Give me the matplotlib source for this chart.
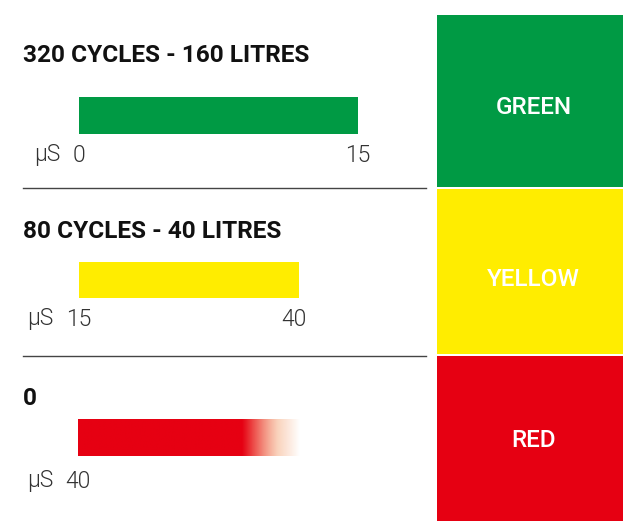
import numpy as np
import matplotlib
matplotlib.use("Agg")
import matplotlib.pyplot as plt
from matplotlib.colors import to_rgb

# ---- data ----
titles = ["320 CYCLES - 160 LITRES", "80 CYCLES - 40 LITRES", "0"]
range_start = [0, 15, 40]
range_end = [15, 40, None]
unit = "µS"
zone_labels = ["GREEN", "YELLOW", "RED"]
zone_colors = ["#009A44", "#FFED00", "#E60012"]

W, H = 623, 522
fig = plt.figure(figsize=(W / 100, H / 100), dpi=100)
fig.patch.set_facecolor("white")
plt.rcParams["font.family"] = ["Roboto", "DejaVu Sans"]


def rect(x0, y0, x1, y1):
    return [x0 / W, 1 - y1 / H, (x1 - x0) / W, (y1 - y0) / H]


# background axes in pixel coords
bg = fig.add_axes([0, 0, 1, 1])
bg.set_xlim(0, W)
bg.set_ylim(H, 0)
bg.axis("off")

bar_px = [(79, 358, 97, 134), (79, 299, 262, 298), (78, 300, 419, 456)]
title_y = [55, 232, 398.5]
tick_y = [155, 319, 481]
unit_x = [47, 40, 40]
end_x_shift = [0, -5, 0]
sep_y = [188, 356]
TICK_FS = 16.5

for i in range(3):
    bx0, bx1, by0, by1 = bar_px[i]
    bg.text(23, title_y[i], titles[i], fontsize=17.6, fontweight="bold",
            color="#111111", ha="left", va="center")
    ax = fig.add_axes(rect(bx0, by0, bx1, by1))
    ax.axis("off")
    s, e = range_start[i], range_end[i]
    if e is not None:
        ax.set_xlim(s, e)
        ax.set_ylim(0, 1)
        ax.barh([0.5], [e - s], left=[s], height=1.0, color=zone_colors[i])
    else:
        # open-ended range: solid then fading out
        ax.set_xlim(0, 1)
        ax.set_ylim(0, 1)
        n = 400
        xs = np.linspace(0, 1, n)
        t = np.clip((xs - 0.74) / 0.26, 0, 1)
        rgb = np.array(to_rgb(zone_colors[i]))
        fade = np.array(to_rgb("#F4A070"))
        img = np.zeros((1, n, 4))
        tt = np.clip(t * 1.6, 0, 1)[:, None]
        img[0, :, :3] = rgb * (1 - tt) + fade * tt
        img[0, :, 3] = 1 - t ** 1.3
        ax.imshow(img, extent=(0, 1, 0, 1), aspect="auto", interpolation="bilinear")
    # tick labels
    bg.text(unit_x[i], tick_y[i], unit, fontsize=TICK_FS, color="#333333",
            ha="center", va="center", fontweight=300)
    bg.text(bx0, tick_y[i], str(s), fontsize=TICK_FS, color="#333333",
            ha="center", va="center", fontweight=300)
    if e is not None:
        bg.text(bx1 + end_x_shift[i], tick_y[i], str(e), fontsize=TICK_FS,
                color="#333333", ha="center", va="center", fontweight=300)

for y in sep_y:
    bg.plot([23, 426], [y, y], color="#444444", lw=1.0)

# right zone panel
rp = fig.add_axes(rect(437, 14, 623, 522))
rp.set_xlim(0, 1)
rp.set_ylim(len(zone_labels), 0)
rp.axis("off")
heights = [174 / 508 * 3, 167 / 508 * 3, 167 / 508 * 3]
tops = np.concatenate([[0], np.cumsum(heights)[:-1]])
label_y = [108, 280, 440.5]
for j, lab in enumerate(zone_labels):
    rp.bar([0.5], [heights[j] - 0.006], bottom=[tops[j] + 0.003], width=1.0,
           color=zone_colors[j], align="center")
    bg.text(533.5, label_y[j], lab, fontsize=17.5, color="white",
            fontweight="medium", ha="center", va="center", zorder=5)
bg.set_zorder(5)

fig.savefig("out.png", dpi=100, facecolor="white")
